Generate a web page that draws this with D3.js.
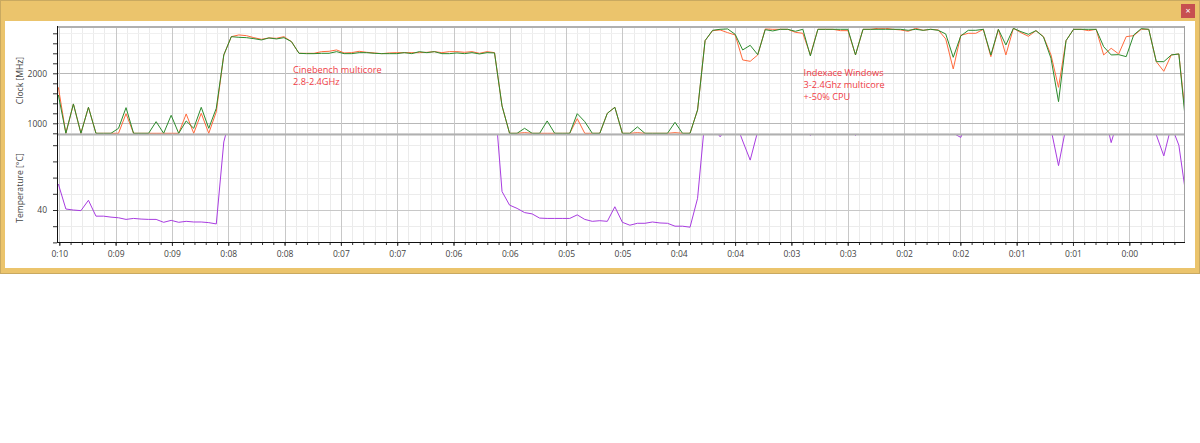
<!DOCTYPE html>
<html>
<head>
<meta charset="utf-8">
<script src="https://cdn.jsdelivr.net/npm/d3@7"></script>
<style>
    html, body { margin: 0; padding: 0; background: #fff; }
    svg { display: block; }
    text { font-family: "Open Sans", "Noto Sans", sans-serif; }
    .axis text { font-size: 8.5px; fill: #444; }
    .axis path { display: none; }
    .note { font-size: 9.2px; fill: #f03c46; }
</style>
</head>
<body>
<div id="chart"></div>
<script>
// Values. One sample every ~4 seconds, counting down.
const orangeClock = [
    1720, 800, 1387, 800, 1320, 800, 800, 800, 800, 1193,
    800, 800, 800, 800, 800, 800, 800, 1187, 800, 1200,
    800, 1230, 2367, 2733, 2767, 2753, 2713, 2680, 2707, 2700,
    2733, 2633, 2400, 2400, 2400, 2433, 2440, 2467, 2407, 2413,
    2440, 2420, 2407, 2393, 2407, 2413, 2413, 2413, 2413, 2420,
    2433, 2413, 2433, 2433, 2420, 2433, 2400, 2433, 2413, 1347,
    800, 800, 813, 800, 800, 800, 800, 800, 800, 1093,
    800, 800, 800, 1200, 1320, 800, 800, 813, 800, 800,
    800, 800, 813, 800, 800, 1267, 2653, 2853, 2867, 2813,
    2767, 2267, 2240, 2367, 2887, 2880, 2880, 2880, 2820, 2800,
    2367, 2880, 2880, 2880, 2853, 2853, 2367, 2880, 2880, 2900,
    2900, 2880, 2867, 2840, 2900, 2860, 2880, 2867, 2687, 2087,
    2760, 2800, 2800, 2880, 2333, 2880, 2367, 2900, 2813, 2740,
    2853, 2733, 2367, 1720, 2653, 2880, 2880, 2853, 2880, 2367,
    2500, 2387, 2733, 2753, 2880, 2880, 2233, 2040, 2367, 2387,
    990
];
const greenClock = [
    1567, 800, 1387, 800, 1320, 800, 800, 800, 900, 1313,
    800, 800, 800, 1033, 800, 1160, 800, 1047, 900, 1320,
    900, 1300, 2367, 2733, 2720, 2713, 2693, 2667, 2707, 2687,
    2713, 2633, 2400, 2393, 2393, 2400, 2400, 2433, 2393, 2393,
    2413, 2413, 2400, 2393, 2393, 2393, 2413, 2393, 2433, 2413,
    2433, 2393, 2393, 2407, 2393, 2413, 2387, 2413, 2407, 1347,
    800, 800, 900, 800, 800, 1047, 800, 800, 800, 1193,
    1033, 800, 800, 1200, 1320, 800, 800, 927, 800, 800,
    800, 800, 1020, 800, 800, 1267, 2653, 2860, 2880, 2887,
    2780, 2467, 2560, 2373, 2873, 2847, 2880, 2880, 2840, 2880,
    2347, 2880, 2880, 2880, 2880, 2880, 2367, 2880, 2880, 2880,
    2880, 2880, 2880, 2860, 2880, 2860, 2880, 2860, 2787, 2320,
    2747, 2860, 2860, 2880, 2367, 2880, 2567, 2900, 2833, 2780,
    2853, 2727, 2300, 1433, 2653, 2880, 2880, 2880, 2880, 2533,
    2367, 2373, 2333, 2767, 2893, 2880, 2233, 2233, 2367, 2387,
    860
];
// values above about 63 run off the top of the panel, those are rough guesses
const temperature = [
    48, 40.3, 40, 39.8, 43, 38.1, 38.1, 37.8, 37.6, 37.1,
    37.4, 37.2, 37.1, 37.1, 36.2, 36.8, 36.2, 36.5, 36.3, 36.3,
    36.1, 35.7, 61, 70, 74, 76, 77, 77, 78, 78,
    78, 77, 76, 76, 77, 77, 78, 78, 78, 77,
    78, 78, 77, 77, 78, 78, 77, 78, 78, 77,
    78, 78, 77, 78, 77, 78, 77, 78, 75, 45.7,
    41.5, 40.5, 39.2, 38.8, 37.5, 37.4, 37.4, 37.4, 37.4, 38.5,
    37.1, 36.5, 36.7, 36.5, 41, 36.2, 35.3, 35.9, 35.9, 36.3,
    36, 35.9, 35, 35, 34.7, 43.6, 68.6, 65.7, 62.6, 65.7,
    67.5, 61.3, 55.4, 64.3, 70, 70, 71, 70, 68, 66,
    63, 66, 70, 71, 71, 68, 63, 66, 70, 71,
    71, 72, 71, 71, 70, 70, 71, 70, 67, 63.7,
    62.4, 67.8, 68, 70, 66, 70, 66, 71, 70, 69,
    70, 69, 65, 53.7, 65.7, 70, 71, 71, 72, 71,
    60.8, 68.6, 70, 71, 71, 70, 63.2, 56.7, 66, 60,
    43.6
];

const clockGrid = [800, 1000, 1200, 1400, 1600, 1800, 2000, 2200, 2400, 2600, 2800];
const clockLabels = {1000: "1000", 2000: "2000"};
const tempGrid = [30, 35, 40, 45, 50, 55, 60];
const tempLabels = {40: "40"};
const timeTicks = [570, 540, 510, 480, 450, 420, 390, 360, 330, 300, 270, 240, 210, 180, 150, 120, 90, 60, 30, 0];
const timeLabels = ["0:10", "0:09", "0:09", "0:08", "0:08", "0:07", "0:07", "0:06", "0:06", "0:05",
    "0:05", "0:04", "0:04", "0:03", "0:03", "0:02", "0:02", "0:01", "0:01", "0:00"];
const noteTexts = ["Cinebench multicore", "2.8-2.4GHz", "Indexace Windows", "3-2.4Ghz multicore", "+-50% CPU"];
const noteTimes = [445.5, 445.5, 173.5, 173.5, 173.5];
const noteClocks = [2000, 1760, 1940, 1700, 1460];

const sampleTimes = orangeClock.map((d, i) => 570.5 - i * 4.006);
const minorTicks = d3.range(570 + 6, -30, -6);

const width = 1200, height = 443;
const plotLeft = 57, plotRight = 1184, plotTop = 27, plotMid = 134, plotBottom = 242;

const svg = d3.select("#chart").append("svg")
    .attr("width", width)
    .attr("height", height);

// window frame
svg.append("rect").attr("x", 0.5).attr("y", 0.5).attr("width", 1199).attr("height", 273)
    .attr("fill", "#ebc46c").attr("stroke", "#c9a960");
svg.append("rect").attr("x", 5).attr("y", 21).attr("width", 1190).attr("height", 247).attr("fill", "#fff");
svg.append("rect").attr("x", 1181).attr("y", 4).attr("width", 14).attr("height", 14).attr("fill", "#c75050");
svg.append("text").attr("x", 1188).attr("y", 14).attr("text-anchor", "middle")
    .style("font-size", "9px").attr("fill", "#fff").text("×");

// scales
const xScale = d3.scaleLinear().domain([570, 0]).range([59.3, 1129.3]);
const clockScale = d3.scaleLinear().domain([1000, 2000]).range([123.3, 73.3]);
const tempScale = d3.scaleLinear().domain([35, 40]).range([226.2, 210]);

const insidePlot = t => xScale(t) > plotLeft && xScale(t) < plotRight;
const crisp = v => Math.round(v) + 0.5;

// grid
const grid = svg.append("g");
grid.selectAll(".v-minor").data(minorTicks.filter(insidePlot))
    .enter().append("line")
    .attr("class", "v-minor")
    .attr("x1", d => crisp(xScale(d))).attr("x2", d => crisp(xScale(d)))
    .attr("y1", plotTop).attr("y2", plotBottom)
    .attr("stroke", "#ebebeb");
grid.selectAll(".clock-h").data(clockGrid).enter().append("line")
    .attr("class", "clock-h")
    .attr("x1", plotLeft).attr("x2", plotRight)
    .attr("y1", d => crisp(clockScale(d))).attr("y2", d => crisp(clockScale(d)))
    .attr("stroke", d => clockLabels[d] ? "#b8b8b8" : "#f0f0f0");
grid.selectAll(".temp-h").data(tempGrid).enter().append("line")
    .attr("class", "temp-h")
    .attr("x1", plotLeft).attr("x2", plotRight)
    .attr("y1", d => crisp(tempScale(d))).attr("y2", d => crisp(tempScale(d)))
    .attr("stroke", d => tempLabels[d] ? "#c8c8c8" : "#ececec");
grid.selectAll(".v-major").data(timeTicks).enter().append("line")
    .attr("class", "v-major")
    .attr("x1", d => crisp(xScale(d))).attr("x2", d => crisp(xScale(d)))
    .attr("y1", plotTop).attr("y2", plotBottom)
    .attr("stroke", "#c8c8c8");

// clip paths so the lines stop at the panel edges
svg.append("clipPath").attr("id", "clip-clock").append("rect")
    .attr("x", plotLeft).attr("y", plotTop).attr("width", plotRight - plotLeft).attr("height", plotMid - plotTop);
svg.append("clipPath").attr("id", "clip-temp").append("rect")
    .attr("x", plotLeft).attr("y", plotMid).attr("width", plotRight - plotLeft).attr("height", plotBottom - plotMid);

const clockLine = d3.line().x((d, i) => xScale(sampleTimes[i])).y(d => clockScale(d));
const tempLine = d3.line().x((d, i) => xScale(sampleTimes[i])).y(d => tempScale(d));

svg.append("path").datum(orangeClock)
    .attr("clip-path", "url(#clip-clock)")
    .attr("fill", "none").attr("stroke", "#ff6a3c").attr("stroke-width", 1)
    .attr("d", clockLine);
svg.append("path").datum(greenClock)
    .attr("clip-path", "url(#clip-clock)")
    .attr("fill", "none").attr("stroke", "#2c8a2c").attr("stroke-width", 1)
    .attr("d", clockLine);
svg.append("path").datum(temperature)
    .attr("clip-path", "url(#clip-temp)")
    .attr("fill", "none").attr("stroke", "#a83ce0").attr("stroke-width", 1)
    .attr("d", tempLine);

// panel borders
svg.append("line").attr("x1", plotLeft).attr("x2", plotRight + 1).attr("y1", 27).attr("y2", 27)
    .attr("stroke", "#b0b0b0").attr("stroke-width", 2);
svg.append("line").attr("x1", plotLeft).attr("x2", plotRight + 1).attr("y1", 134.5).attr("y2", 134.5)
    .attr("stroke", "#b0b0b0").attr("stroke-width", 2);
svg.append("line").attr("x1", plotRight + 0.5).attr("x2", plotRight + 0.5).attr("y1", 26).attr("y2", plotBottom)
    .attr("stroke", "#a0a0a0");

// axes
const xAxis = d3.axisBottom(xScale)
    .tickValues(timeTicks)
    .tickSize(4)
    .tickPadding(5)
    .tickFormat((d, i) => timeLabels[i]);
svg.append("g").attr("class", "axis").attr("transform", `translate(0,${plotBottom})`).call(xAxis);

const xMinor = d3.axisBottom(xScale)
    .tickValues(minorTicks.filter(insidePlot))
    .tickSize(3)
    .tickFormat("");
svg.append("g").attr("class", "axis").attr("transform", `translate(0,${plotBottom})`).call(xMinor);

const clockAxis = d3.axisLeft(clockScale)
    .tickValues(clockGrid)
    .tickSize(4)
    .tickPadding(6)
    .tickFormat(d => clockLabels[d] || "");
svg.append("g").attr("class", "axis").attr("transform", `translate(${plotLeft},0)`).call(clockAxis);

const tempAxis = d3.axisLeft(tempScale)
    .tickValues(tempGrid)
    .tickSize(4)
    .tickPadding(6)
    .tickFormat(d => tempLabels[d] || "");
svg.append("g").attr("class", "axis").attr("transform", `translate(${plotLeft},0)`).call(tempAxis);

svg.selectAll(".axis .tick line").attr("stroke", "#333");

svg.append("line").attr("x1", plotLeft + 0.5).attr("x2", plotLeft + 0.5).attr("y1", 26).attr("y2", plotBottom + 0.5)
    .attr("stroke", "#111");
svg.append("line").attr("x1", plotLeft).attr("x2", plotRight + 1).attr("y1", plotBottom + 0.5).attr("y2", plotBottom + 0.5)
    .attr("stroke", "#111");

// axis titles
svg.append("text")
    .attr("transform", "translate(23,80.5) rotate(-90)")
    .attr("text-anchor", "middle").attr("fill", "#444").style("font-size", "8.6px").text("Clock [MHz]");
svg.append("text")
    .attr("transform", "translate(23,188) rotate(-90)")
    .attr("text-anchor", "middle").attr("fill", "#444").style("font-size", "8.6px").text("Temperature [°C]");

// annotations
svg.selectAll(".note").data(noteTexts).enter().append("text")
    .attr("class", "note")
    .attr("x", (d, i) => xScale(noteTimes[i]))
    .attr("y", (d, i) => clockScale(noteClocks[i]))
    .text(d => d);
</script>
</body>
</html>
